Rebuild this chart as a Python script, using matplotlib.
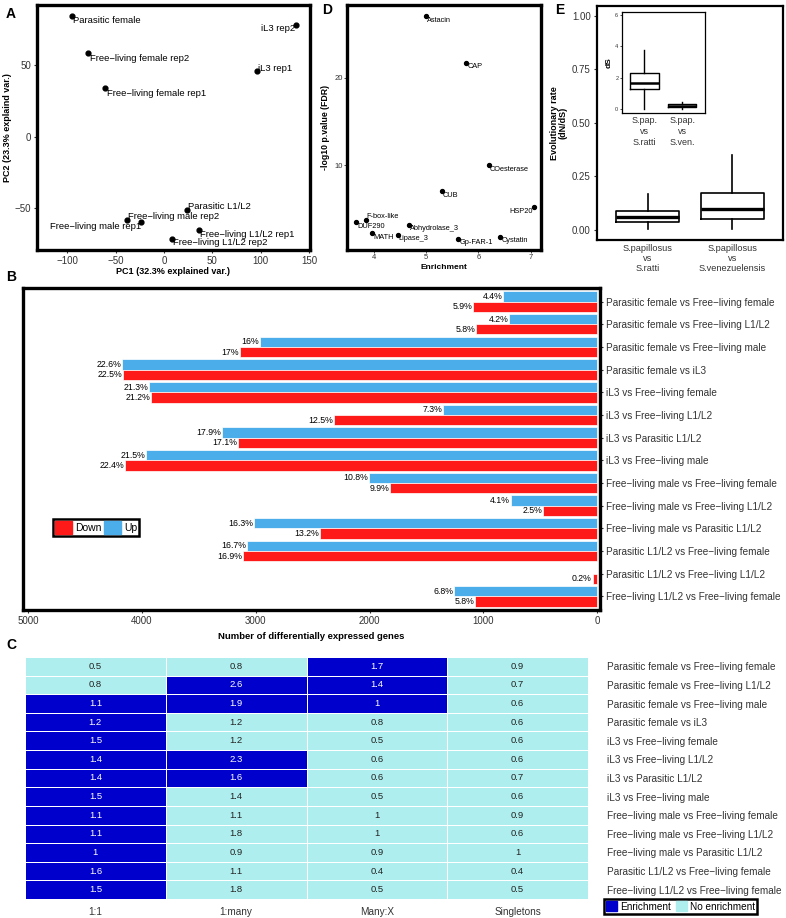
import matplotlib
matplotlib.use('Agg')
import matplotlib.pyplot as plt
from matplotlib import font_manager
from matplotlib.patches import Patch
from matplotlib.colors import ListedColormap
import numpy as np

plt.rcParams['font.family'] = ['Liberation Sans', 'DejaVu Sans']
have = {f.name for f in font_manager.fontManager.ttflist}
if 'Liberation Sans Narrow' in have:
    NARROW, NS = ['Liberation Sans Narrow', 'Liberation Sans'], 1.0
else:
    NARROW, NS = ['Liberation Sans'], 0.85

# ---------------- data ----------------
# A: PCA of samples
pca_labels = ['Parasitic female', 'iL3 rep2', 'Free\u2212living female rep2', 'iL3 rep1',
              'Free\u2212living female rep1', 'Parasitic L1/L2', 'Free\u2212living male rep2',
              'Free\u2212living male rep1', 'Free\u2212living L1/L2 rep1', 'Free\u2212living L1/L2 rep2']
pc1 = [-95.5, 136.6, -79.0, 96.6, -61.0, 23.5, -38.0, -24.1, 36.5, 8.0]
pc2 = [84.4, 78.1, 58.4, 46.2, 34.0, -51.4, -58.4, -59.8, -65.3, -71.3]

# D: protein domain enrichment
domains = ['Astacin', 'CAP', 'COesterase', 'CUB', 'HSP20', 'F-box-like', 'DUF290',
           'Abhydrolase_3', 'MATH', 'Lipase_3', 'Gp-FAR-1', 'Cystatin']
enrichment = [5.0, 5.77, 6.2, 5.3, 7.06, 3.85, 3.66, 4.67, 3.97, 4.46, 5.62, 6.42]
neg_log_fdr = [27.0, 21.7, 10.0, 7.0, 5.2, 3.76, 3.48, 3.2, 2.2, 2.03, 1.57, 1.84]

# E: evolutionary rates (box summaries: low whisker, q1, median, q3, high whisker)
e_labels = ['S.papillosus\nvs\nS.ratti', 'S.papillosus\nvs\nS.venezuelensis']
dnds_low = [0.003, 0.003]
dnds_q1 = [0.039, 0.050]
dnds_med = [0.062, 0.097]
dnds_q3 = [0.090, 0.171]
dnds_high = [0.167, 0.350]
inset_labels = ['S.pap.\nvs\nS.ratti', 'S.pap.\nvs\nS.ven.']
ds_low = [0.02, 0.02]
ds_q1 = [1.27, 0.13]
ds_med = [1.68, 0.23]
ds_q3 = [2.28, 0.32]
ds_high = [3.75, 0.44]

# B: differentially expressed genes
comparisons = ['Parasitic female vs Free\u2212living female', 'Parasitic female vs Free\u2212living L1/L2',
               'Parasitic female vs Free\u2212living male', 'Parasitic female vs iL3',
               'iL3 vs Free\u2212living female', 'iL3 vs Free\u2212living L1/L2', 'iL3 vs Parasitic L1/L2',
               'iL3 vs Free\u2212living male', 'Free\u2212living male vs Free\u2212living female',
               'Free\u2212living male vs Free\u2212living L1/L2', 'Free\u2212living male vs Parasitic L1/L2',
               'Parasitic L1/L2 vs Free\u2212living female', 'Parasitic L1/L2 vs Free\u2212living L1/L2',
               'Free\u2212living L1/L2 vs Free\u2212living female']
up_genes = [826, 773, 2961, 4174, 3937, 1353, 3295, 3963, 2003, 756, 3014, 3076, 0, 1257]
down_genes = [1090, 1063, 3137, 4165, 3919, 2311, 3155, 4148, 1819, 474, 2434, 3111, 40, 1072]
up_pct = ['4.4%', '4.2%', '16%', '22.6%', '21.3%', '7.3%', '17.9%', '21.5%', '10.8%', '4.1%',
          '16.3%', '16.7%', '', '6.8%']
down_pct = ['5.9%', '5.8%', '17%', '22.5%', '21.2%', '12.5%', '17.1%', '22.4%', '9.9%', '2.5%',
            '13.2%', '16.9%', '0.2%', '5.8%']

# C: orthology group enrichment
c_rows = [c for c in comparisons if c != 'Parasitic L1/L2 vs Free\u2212living L1/L2']
c_cols = ['1:1', '1:many', 'Many:X', 'Singletons']
c_ratio = [[0.5, 0.8, 1.7, 0.9], [0.8, 2.6, 1.4, 0.7], [1.1, 1.9, 1.0, 0.6], [1.2, 1.2, 0.8, 0.6],
           [1.5, 1.2, 0.5, 0.6], [1.4, 2.3, 0.6, 0.6], [1.4, 1.6, 0.6, 0.7], [1.5, 1.4, 0.5, 0.6],
           [1.1, 1.1, 1.0, 0.9], [1.1, 1.8, 1.0, 0.6], [1.0, 0.9, 0.9, 1.0], [1.6, 1.1, 0.4, 0.4],
           [1.5, 1.8, 0.5, 0.5]]
c_enriched = [[0, 0, 1, 0], [0, 1, 1, 0], [1, 1, 1, 0], [1, 0, 0, 0], [1, 0, 0, 0], [1, 1, 0, 0],
              [1, 1, 0, 0], [1, 0, 0, 0], [1, 0, 0, 0], [1, 0, 0, 0], [1, 0, 0, 0], [1, 0, 0, 0],
              [1, 0, 0, 0]]

RED = '#FF1A1A'
BLUE = '#4BAEEA'
DARK = '#0000CD'
LIGHT = '#AFEEEE'
TICK = '#333333'

W, H = 786, 918
fig = plt.figure(figsize=(W / 100, H / 100), dpi=100)


def px_axes(l, t, r, b):
    return fig.add_axes([l / W, 1 - b / H, (r - l) / W, (b - t) / H])


def letter(x, y, s):
    fig.text(x / W, 1 - y / H, s, fontsize=10, fontweight='bold', ha='center', va='center')


def frame(ax, lw):
    for sp in ax.spines.values():
        sp.set_linewidth(lw)
        sp.set_color('black')


# ---------------- A ----------------
axA = px_axes(37, 5, 310, 250)
axA.scatter(pc1, pc2, s=12, color='black', zorder=3)
a_place = {'Parasitic female': ('left', 1, -5), 'iL3 rep2': ('right', -1, -4),
           'Free\u2212living female rep2': ('left', 2, -5), 'iL3 rep1': ('left', 1, 2),
           'Free\u2212living female rep1': ('left', 2, -5), 'Parasitic L1/L2': ('left', 1, 4),
           'Free\u2212living male rep2': ('left', 1, 4), 'Free\u2212living male rep1': ('right', 0, -4.5),
           'Free\u2212living L1/L2 rep1': ('left', 1, -4), 'Free\u2212living L1/L2 rep2': ('left', 1, -4)}
for lab, x, y in zip(pca_labels, pc1, pc2):
    ha, dx, dy = a_place[lab]
    axA.annotate(lab, (x, y), xytext=(dx, dy), textcoords='offset pixels',
                 ha=ha, va='center', fontsize=6.8)
axA.set_xlim(-131.5, 151)
axA.set_ylim(-79, 92)
axA.set_xticks([-100, -50, 0, 50, 100, 150])
axA.set_yticks([-50, 0, 50])
axA.tick_params(length=2.5, width=0.8, color=TICK, labelsize=7, labelcolor=TICK, pad=1.5)
axA.set_xlabel('PC1 (32.3% explained var.)', fontsize=6.5, fontweight='bold', labelpad=1)
axA.set_ylabel('PC2 (23.3% explaind var.)', fontsize=6.5, fontweight='bold', labelpad=2)
frame(axA, 2.4)

# ---------------- D ----------------
axD = px_axes(347, 5, 541, 250)
axD.scatter(enrichment, neg_log_fdr, s=8, color='black', zorder=3)
d_place = {'HSP20': ('right', -1, -4), 'F-box-like': ('left', 1, 3), 'DUF290': ('left', 1, -4.5)}
for lab, x, y in zip(domains, enrichment, neg_log_fdr):
    ha, dx, dy = d_place.get(lab, ('left', 1, -4))
    axD.annotate(lab, (x, y), xytext=(dx, dy), textcoords='offset pixels', ha=ha, va='center',
                 fontsize=6.3 * NS, family=NARROW)
axD.set_xlim(3.49, 7.2)
axD.set_ylim(0.3, 28.3)
axD.set_xticks([4, 5, 6, 7])
axD.set_yticks([10, 20])
axD.tick_params(length=2, width=0.6, color=TICK, labelsize=5.5, labelcolor=TICK, pad=1)
axD.set_xlabel('Enrichment', fontsize=6, fontweight='bold', labelpad=2)
axD.set_ylabel('-log10 p.value (FDR)', fontsize=6.3, fontweight='bold', labelpad=3)
frame(axD, 2.4)


# ---------------- E ----------------
def box_stats(lo, q1, med, q3, hi):
    return [dict(whislo=a, q1=b, med=c, q3=d, whishi=e, fliers=[])
            for a, b, c, d, e in zip(lo, q1, med, q3, hi)]


axE = px_axes(597, 6, 783, 240)
axE.bxp(box_stats(dnds_low, dnds_q1, dnds_med, dnds_q3, dnds_high), positions=[1, 2],
        widths=0.75, showcaps=False, showfliers=False,
        boxprops=dict(linewidth=1.2, color='black'), whiskerprops=dict(linewidth=1.2),
        medianprops=dict(color='black', linewidth=2.4))
axE.set_xlim(0.4, 2.6)
axE.set_ylim(-0.047, 1.045)
axE.set_yticks([0, 0.25, 0.5, 0.75, 1.0])
axE.set_yticklabels(['0.00', '0.25', '0.50', '0.75', '1.00'])
axE.tick_params(length=2.5, width=0.8, color=TICK, labelsize=7, labelcolor=TICK, pad=2)
axE.tick_params(axis='x', length=0, pad=3)
axE.set_xticks([1, 2])
axE.set_xticklabels(e_labels, fontsize=6.6, linespacing=1.15, color=TICK)
axE.set_ylabel('Evolutionary rate\n(dN/dS)', fontsize=6.5, fontweight='bold', labelpad=3,
               linespacing=1.0)
frame(axE, 1.6)

axI = px_axes(621.7, 11.7, 705, 113.3)
axI.bxp(box_stats(ds_low, ds_q1, ds_med, ds_q3, ds_high), positions=[1, 2],
        widths=0.75, showcaps=False, showfliers=False,
        boxprops=dict(linewidth=1.0, color='black'), whiskerprops=dict(linewidth=1.0),
        medianprops=dict(color='black', linewidth=1.8))
axI.set_xlim(0.4, 2.6)
axI.set_ylim(-0.25, 6.18)
axI.set_yticks([0, 2, 4, 6])
axI.tick_params(length=1.5, width=0.6, color=TICK, labelsize=4, labelcolor=TICK, pad=1)
axI.tick_params(axis='x', length=0, pad=2)
axI.set_xticks([1, 2])
axI.set_xticklabels(inset_labels, fontsize=6.5, linespacing=1.25, color=TICK)
axI.set_ylabel('dS', fontsize=6, fontweight='bold', labelpad=2)
frame(axI, 0.9)

# ---------------- B ----------------
axB = px_axes(23, 288, 600, 610)
rows = np.arange(1, len(comparisons) + 1)
axB.barh(rows - 0.225, up_genes, height=0.45, color=BLUE, edgecolor='white', linewidth=0.5)
axB.barh(rows + 0.225, down_genes, height=0.45, color=RED, edgecolor='white', linewidth=0.5)
for r, v, t in zip(rows, up_genes, up_pct):
    if t:
        axB.annotate(t, (v, r - 0.225), xytext=(-1, 0), textcoords='offset pixels',
                     ha='right', va='center', fontsize=6.3)
for r, v, t in zip(rows, down_genes, down_pct):
    if t:
        axB.annotate(t, (v, r + 0.225), xytext=(-1, 0), textcoords='offset pixels',
                     ha='right', va='center', fontsize=6.3)
axB.set_xlim(5045, -25)
axB.set_ylim(14.6, 0.4)
axB.set_xticks([5000, 4000, 3000, 2000, 1000, 0])
axB.yaxis.tick_right()
axB.set_yticks(rows)
axB.tick_params(length=2.5, width=0.8, color=TICK, labelsize=7, labelcolor=TICK, pad=2)
axB.set_yticklabels(comparisons, fontsize=7.2, color=TICK)
axB.set_xlabel('Number of differentially expressed genes', fontsize=6.8, fontweight='bold',
               labelpad=4)
frame(axB, 2.4)
legB = axB.legend(handles=[Patch(color=RED, label='Down'), Patch(color=BLUE, label='Up')],
                  loc='upper left', bbox_to_anchor=(0.052, 0.283), ncol=2, fontsize=7.5,
                  handlelength=1.6, handleheight=1.6, handletextpad=0.3, columnspacing=0.3,
                  borderpad=0.2, borderaxespad=0, fancybox=False, edgecolor='black', framealpha=1)
legB.get_frame().set_linewidth(1.8)

# ---------------- C ----------------
axC = px_axes(25, 657, 588, 899)
axC.pcolormesh(np.array(c_enriched), cmap=ListedColormap([LIGHT, DARK]), vmin=0, vmax=1,
               edgecolors='white', linewidth=0.4)
for i, (vals, flags) in enumerate(zip(c_ratio, c_enriched)):
    for j, (v, f) in enumerate(zip(vals, flags)):
        axC.text(j + 0.5, i + 0.5, '{:g}'.format(v), ha='center', va='center',
                 fontsize=8 * NS, family=NARROW, color='white' if f else '#222222')
axC.set_ylim(len(c_rows), 0)
axC.set_xticks(np.arange(len(c_cols)) + 0.5)
axC.set_xticklabels(c_cols, fontsize=8.5 * NS, family=NARROW, color=TICK)
axC.yaxis.tick_right()
axC.set_yticks(np.arange(len(c_rows)) + 0.5)
axC.set_yticklabels(c_rows, fontsize=8.5 * NS, family=NARROW, color=TICK)
axC.tick_params(length=0, pad=6)
axC.tick_params(axis='y', pad=14)
for sp in axC.spines.values():
    sp.set_visible(False)
legC = axC.legend(handles=[Patch(color=DARK, label='Enrichment'), Patch(color=LIGHT, label='No enrichment')],
                  loc='upper left', bbox_to_anchor=(604 / W, 1 - 899 / H), bbox_transform=fig.transFigure,
                  ncol=2, prop=dict(family=NARROW, size=8.5 * NS), handlelength=1.1, handleheight=1.2,
                  handletextpad=0.3, columnspacing=0.5, borderpad=0.2, borderaxespad=0,
                  fancybox=False, edgecolor='black', framealpha=1)
legC.get_frame().set_linewidth(1.8)

letter(10.5, 13.5, 'A')
letter(327, 10, 'D')
letter(560, 10, 'E')
letter(11, 277, 'B')
letter(11, 645, 'C')

fig.savefig('out.png', dpi=100)
